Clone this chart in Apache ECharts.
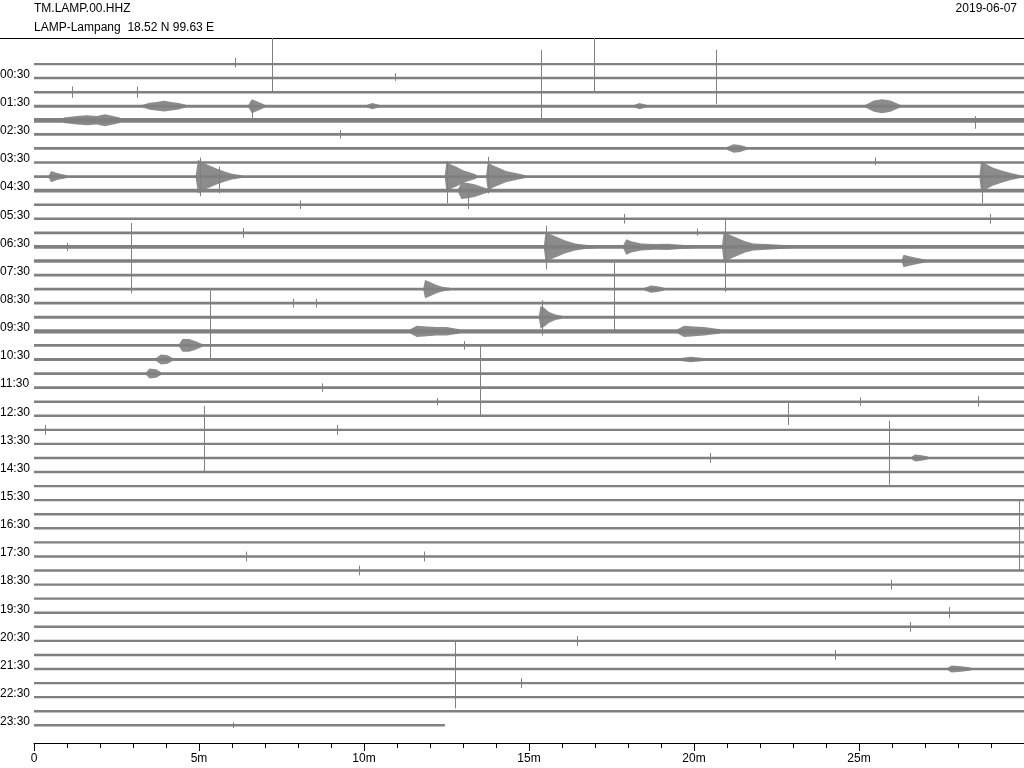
<!DOCTYPE html>
<html>
<head>
<meta charset="utf-8">
<script src="https://cdn.jsdelivr.net/npm/echarts@6/dist/echarts.min.js"></script>
<style>
html, body { margin: 0; padding: 0; background: #fff; }
#chart { width: 1024px; height: 768px; }
</style>
</head>
<body>
<div id="chart"></div>
<script>
// helicorder TM.LAMP.00.HHZ 2019-06-07, 48 traces of 30 minutes
const traceCount = 48
const lastTraceEnd = 12.45 // minutes, the last trace stops early

// labels sit on the odd traces (the :30 ones)
const timeLabels = ['00:30', '01:30', '02:30', '03:30', '04:30', '05:30', '06:30', '07:30',
    '08:30', '09:30', '10:30', '11:30', '12:30', '13:30', '14:30', '15:30',
    '16:30', '17:30', '18:30', '19:30', '20:30', '21:30', '22:30', '23:30']

// background noise half width of each trace (trace spacing = 1)
const noiseLevel = [0.08, 0.09, 0.09, 0.11, 0.17, 0.1, 0.1, 0.09, 0.1, 0.13, 0.09, 0.09,
    0.1, 0.13, 0.12, 0.1, 0.1, 0.1, 0.11, 0.15, 0.1, 0.1, 0.1, 0.09,
    0.09, 0.085, 0.085, 0.085, 0.085, 0.085, 0.085, 0.085, 0.085, 0.085, 0.085, 0.085,
    0.085, 0.085, 0.085, 0.085, 0.085, 0.085, 0.085, 0.085, 0.085, 0.085, 0.085, 0.085]

// quakes / bursts: [trace, [[minute, half amplitude], ...]] envelope
const events = [
    [3, [[3.3, 0.1], [3.5, 0.25], [3.7, 0.3], [3.95, 0.38], [4.15, 0.3], [4.35, 0.25], [4.6, 0.1]]],
    [3, [[6.5, 0.1], [6.6, 0.5], [6.75, 0.35], [7.0, 0.1]]],
    [3, [[10.1, 0.1], [10.25, 0.22], [10.45, 0.1]]],
    [3, [[18.2, 0.1], [18.35, 0.22], [18.55, 0.1]]],
    [3, [[25.2, 0.1], [25.45, 0.4], [25.7, 0.5], [25.95, 0.4], [26.25, 0.1]]],
    [4, [[0.9, 0.2], [1.3, 0.3], [1.6, 0.35], [1.9, 0.3], [2.15, 0.42], [2.4, 0.3], [2.6, 0.2]]],
    [6, [[21.0, 0.1], [21.2, 0.3], [21.4, 0.25], [21.6, 0.1]]],
    [8, [[0.45, 0.1], [0.52, 0.4], [0.7, 0.25], [1.0, 0.1]]],
    [8, [[4.9, 0.1], [4.97, 1.2], [5.1, 1.0], [5.3, 0.8], [5.55, 0.55], [5.8, 0.35], [6.0, 0.2], [6.3, 0.1]]],
    [8, [[12.45, 0.1], [12.5, 1.1], [12.6, 0.9], [12.8, 0.7], [13.0, 0.45], [13.2, 0.3], [13.4, 0.15]]],
    [8, [[13.7, 0.1], [13.75, 1.0], [13.9, 0.8], [14.1, 0.6], [14.3, 0.4], [14.6, 0.25], [14.9, 0.1]]],
    [8, [[28.65, 0.1], [28.7, 1.1], [28.85, 0.9], [29.05, 0.65], [29.3, 0.45], [29.6, 0.25], [29.9, 0.1]]],
    [9, [[12.85, 0.1], [12.95, 0.6], [13.15, 0.55], [13.35, 0.45], [13.55, 0.3], [13.8, 0.1]]],
    [13, [[15.45, 0.1], [15.5, 1.0], [15.65, 0.9], [15.85, 0.7], [16.1, 0.45], [16.4, 0.25], [16.7, 0.15], [17.0, 0.1]]],
    [13, [[17.85, 0.1], [17.95, 0.55], [18.1, 0.4], [18.4, 0.25], [18.8, 0.2], [19.2, 0.22], [19.6, 0.15], [20.0, 0.1]]],
    [13, [[20.85, 0.1], [20.9, 1.1], [21.05, 0.9], [21.3, 0.65], [21.55, 0.4], [21.8, 0.25], [22.2, 0.2], [22.6, 0.15], [23.0, 0.1]]],
    [14, [[26.3, 0.1], [26.35, 0.45], [26.5, 0.35], [26.7, 0.25], [27.0, 0.1]]],
    [16, [[11.8, 0.1], [11.85, 0.65], [12.0, 0.5], [12.2, 0.3], [12.4, 0.15], [12.6, 0.1]]],
    [16, [[18.5, 0.1], [18.7, 0.25], [18.9, 0.2], [19.1, 0.1]]],
    [18, [[15.3, 0.1], [15.35, 0.8], [15.45, 0.7], [15.6, 0.4], [15.8, 0.2], [16.0, 0.1]]],
    [19, [[11.4, 0.15], [11.6, 0.4], [11.9, 0.35], [12.2, 0.3], [12.5, 0.3], [12.9, 0.15]]],
    [19, [[19.5, 0.15], [19.7, 0.4], [20.0, 0.35], [20.3, 0.3], [20.8, 0.15]]],
    [20, [[4.4, 0.1], [4.5, 0.45], [4.7, 0.45], [4.9, 0.3], [5.1, 0.1]]],
    [21, [[3.7, 0.1], [3.85, 0.35], [4.05, 0.3], [4.2, 0.1]]],
    [21, [[19.6, 0.1], [19.9, 0.2], [20.3, 0.1]]],
    [22, [[3.4, 0.1], [3.5, 0.35], [3.7, 0.3], [3.85, 0.1]]],
    [28, [[26.6, 0.1], [26.7, 0.25], [26.9, 0.2], [27.1, 0.1]]],
    [43, [[27.7, 0.1], [27.8, 0.25], [28.1, 0.2], [28.4, 0.1]]]
]

// single spikes / glitches: [trace, minute, up, down]
const spikes = [
    [0, 6.09, 0.45, 0.25], [0, 7.21, 2.0, 2.0], [0, 16.97, 2.0, 2.0],
    [1, 10.94, 0.35, 0.2], [1, 15.36, 2.0, 3.0], [1, 20.67, 2.0, 1.85],
    [2, 1.15, 0.4, 0.4], [2, 3.12, 0.4, 0.4],
    [3, 6.62, 0.3, 0.9],
    [4, 28.52, 0.3, 0.6],
    [5, 9.27, 0.3, 0.3],
    [7, 25.48, 0.35, 0.2],
    [8, 5.03, 1.35, 1.4], [8, 5.6, 0.7, 1.2], [8, 12.5, 1.1, 1.9], [8, 13.75, 1.4, 1.2], [8, 28.72, 0.7, 1.9],
    [9, 13.15, 0.5, 1.3],
    [10, 8.06, 0.3, 0.3],
    [11, 17.88, 0.35, 0.35], [11, 28.97, 0.35, 0.35],
    [12, 6.33, 0.35, 0.35], [12, 20.09, 0.3, 0.2],
    [13, 1.0, 0.3, 0.3], [13, 15.52, 1.5, 1.6], [13, 20.94, 1.9, 3.2],
    [14, 2.94, 2.7, 2.3],
    [16, 17.58, 1.9, 3.0],
    [17, 7.85, 0.3, 0.3], [17, 8.55, 0.3, 0.3],
    [18, 5.33, 1.9, 2.9], [18, 15.38, 1.2, 1.3],
    [20, 13.03, 0.3, 0.3],
    [23, 8.73, 0.3, 0.3], [23, 13.52, 3.0, 2.1],
    [24, 12.21, 0.25, 0.25], [24, 25.03, 0.3, 0.3], [24, 28.6, 0.4, 0.35],
    [25, 22.85, 0.98, 0.66],
    [26, 0.33, 0.35, 0.35], [26, 5.15, 1.7, 3.0], [26, 9.18, 0.35, 0.35],
    [28, 20.48, 0.35, 0.35], [28, 25.9, 2.65, 1.9],
    [33, 29.85, 2.0, 3.0],
    [35, 6.42, 0.35, 0.35], [35, 11.82, 0.35, 0.35],
    [36, 9.85, 0.35, 0.35],
    [37, 25.97, 0.35, 0.35],
    [39, 27.73, 0.4, 0.4],
    [40, 26.55, 0.35, 0.35],
    [41, 16.45, 0.35, 0.35],
    [42, 24.27, 0.35, 0.35],
    [43, 12.76, 2.05, 2.8],
    [44, 14.76, 0.35, 0.35],
    [47, 6.03, 0.2, 0.2]
]

const xTicks = [0, 5, 10, 15, 20, 25, 30]

const traceColor = '#808080'
const fontFamily = '"Liberation Sans", Arial, Helvetica, sans-serif'

const myChart = echarts.init(document.getElementById('chart'), null, { renderer: 'canvas' })

const traceRows = []
for (let i = 0; i < traceCount; i++) {
    traceRows.push([i, i === traceCount - 1 ? lastTraceEnd : 30, noiseLevel[i]])
}
const labelRows = timeLabels.map((t, j) => [0, j * 2 + 1, t])

const option = {
    animation: false,
    backgroundColor: '#fff',
    grid: { left: 34, right: 0, top: 38, bottom: 25 },
    xAxis: {
        type: 'value',
        position: 'bottom',
        min: xTicks[0],
        max: xTicks[xTicks.length - 1],
        interval: 5,
        axisLine: { show: true, onZero: false, lineStyle: { color: '#000', width: 1 } },
        axisTick: { show: true, length: 8, lineStyle: { color: '#000' } },
        minorTick: { show: true, splitNumber: 5, length: 5, lineStyle: { color: '#000' } },
        splitLine: { show: false },
        axisLabel: {
            color: '#000',
            fontSize: 12,
            fontFamily: fontFamily,
            margin: 10,
            showMaxLabel: false,
            formatter: v => (v === 0 ? '0' : v + 'm')
        }
    },
    yAxis: {
        type: 'value',
        inverse: true,
        min: -1.848,
        max: 48.258,
        show: false
    },
    graphic: [
        { type: 'text', left: 34, top: 3, style: { text: 'TM.LAMP.00.HHZ', fill: '#000', font: '12px ' + fontFamily } },
        { type: 'text', left: 34, top: 22, style: { text: 'LAMP-Lampang  18.52 N 99.63 E', fill: '#000', font: '12px ' + fontFamily } },
        { type: 'text', right: 7, top: 3, style: { text: '2019-06-07', fill: '#000', font: '12px ' + fontFamily } },
        { type: 'line', shape: { x1: 0, y1: 38.5, x2: 1024, y2: 38.5 }, style: { stroke: '#000', lineWidth: 1 } }
    ],
    series: [
        {
            name: 'traces',
            type: 'custom',
            clip: true,
            data: traceRows,
            renderItem: (params, api) => {
                const tr = api.value(0)
                const p0 = api.coord([0, tr])
                const p1 = api.coord([api.value(1), tr])
                const h = api.size([0, api.value(2) * 2])[1]
                return {
                    type: 'rect',
                    shape: { x: p0[0], y: p0[1] - h / 2, width: p1[0] - p0[0], height: h },
                    style: { fill: traceColor }
                }
            }
        },
        {
            name: 'events',
            type: 'custom',
            clip: true,
            data: events.map(e => [e[1][0][0], e[0]]),
            renderItem: (params, api) => {
                const ev = events[params.dataIndex]
                const tr = ev[0]
                const upper = ev[1].map(p => api.coord([p[0], tr - p[1]]))
                const lower = ev[1].slice().reverse().map(p => api.coord([p[0], tr + p[1]]))
                return {
                    type: 'polygon',
                    shape: { points: upper.concat(lower) },
                    style: { fill: traceColor, opacity: 0.9 }
                }
            }
        },
        {
            name: 'spikes',
            type: 'custom',
            clip: true,
            data: spikes,
            renderItem: (params, api) => {
                const tr = api.value(0)
                const m = api.value(1)
                const a = api.coord([m, tr - api.value(2)])
                const b = api.coord([m, tr + api.value(3)])
                return {
                    type: 'line',
                    shape: { x1: Math.round(a[0]) + 0.5, y1: a[1], x2: Math.round(b[0]) + 0.5, y2: b[1] },
                    style: { stroke: traceColor, lineWidth: 1 }
                }
            }
        },
        {
            name: 'labels',
            type: 'custom',
            clip: false,
            data: labelRows,
            renderItem: (params, api) => {
                const p = api.coord([0, api.value(1)])
                return {
                    type: 'text',
                    x: 0,
                    y: p[1] - 3.5,
                    style: {
                        text: labelRows[params.dataIndex][2],
                        fill: '#000',
                        font: '12px ' + fontFamily,
                        align: 'left',
                        verticalAlign: 'middle'
                    }
                }
            }
        }
    ]
}
myChart.setOption(option)
</script>
</body>
</html>
